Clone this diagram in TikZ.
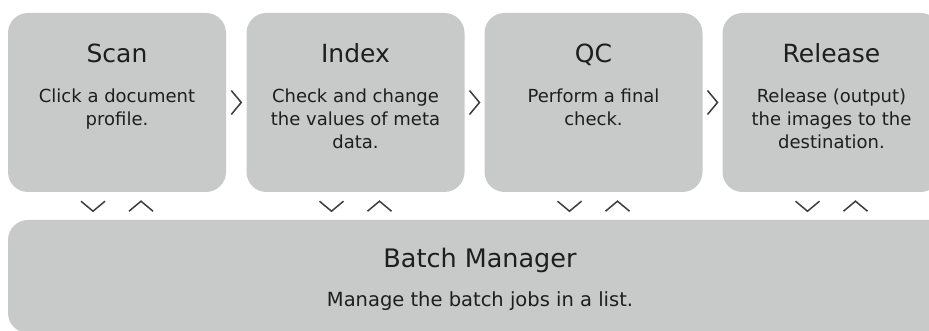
\documentclass[tikz,border=0pt]{standalone}
\usepackage{fontspec}
\setmainfont{DejaVu Sans}
\usetikzlibrary{calc,positioning}
\definecolor{boxgray}{HTML}{C8C9C9}
\definecolor{textdark}{HTML}{1E1E1E}
\definecolor{chevgray}{HTML}{3C3C3C}
\tikzset{
stage/.style={fill=boxgray,rounded corners=20pt,minimum width=218pt,minimum height=179pt,inner sep=0pt},
stagetitle/.style={font=\fontsize{25}{30}\selectfont,text=textdark,anchor=base,inner sep=0pt},
stagebody/.style={font=\fontsize{18}{23}\selectfont,text=textdark,align=center,anchor=north,inner sep=0pt},
chev/.style={draw=chevgray,line width=1.5pt}
}
\begin{document}
\begin{tikzpicture}[x=1pt,y=-1pt]
\useasboundingbox (0,0) rectangle (929,331);
\clip (0,0) rectangle (929,331);
% stages
\node[stage] (scan) at (117,102.5) {};
\node[stage] (index) at (355.5,102.5) {};
\node[stage] (qc) at (593.5,102.5) {};
\node[stage] (release) at (831.5,102.5) {};
\node[stage,minimum width=944pt,minimum height=113pt] (batch) at (480,276.5) {};
% texts
\node[stagetitle] (scantitle) at ([yshift=-50pt]scan.north) {Scan};
\node[stagebody] (scanbody) at ([yshift=-76pt]scan.north) {Click a document\\profile.};
\node[stagetitle] (indextitle) at ([yshift=-50pt]index.north) {Index};
\node[stagebody] (indexbody) at ([yshift=-76pt]index.north) {Check and change\\the values of meta\\data.};
\node[stagetitle] (qctitle) at ([yshift=-50pt]qc.north) {QC};
\node[stagebody] (qcbody) at ([yshift=-76pt]qc.north) {Perform a final\\check.};
\node[stagetitle] (releasetitle) at ([yshift=-50pt]release.north) {Release};
\node[stagebody] (releasebody) at ([yshift=-76pt]release.north) {Release (output)\\the images to the\\destination.};
\node[stagetitle,font=\fontsize{25.5}{30}\selectfont] (batchtitle) at ([yshift=-48pt]batch.north) {Batch Manager};
\node[stagebody,font=\fontsize{19.5}{24}\selectfont,anchor=base] (batchbody) at ([yshift=-87pt]batch.north) {Manage the batch jobs in a list.};
% chevrons
\foreach \a/\b in {scan/index,index/qc,qc/release}
  \draw[chev] ($(\a.east)!0.5!(\b.west)+(-5,-12)$) -- ++(10,12) -- ++(-10,12);
\foreach \n in {scan,index,qc,release}{
  \draw[chev] ($(\n.south)+(-36,9)$) -- ++(12,10) -- ++(12,-10);
  \draw[chev] ($(\n.south)+(12,19)$) -- ++(12,-10) -- ++(12,10);
}
\end{tikzpicture}
\end{document}
